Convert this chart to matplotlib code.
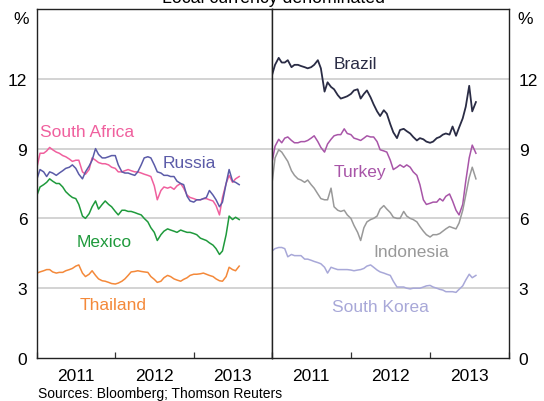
import numpy as np
import pandas as pd
import matplotlib
matplotlib.use("Agg")
from matplotlib import pyplot as plt
import matplotlib.dates as mdates

plt.rcParams['font.family'] = ['Liberation Sans', 'DejaVu Sans']

# semi-monthly observations, Jan 2011 - Aug 2013
dates = pd.date_range('2011-01-01', periods=63, freq='SMS')

south_africa = [8.2, 8.8, 8.8, 8.9, 9.05, 8.95, 8.85, 8.8, 8.7, 8.65, 8.55, 8.45, 8.5, 8.5, 8.0, 7.9,
                8.1, 8.6, 8.5, 8.4, 8.35, 8.35, 8.3, 8.2, 8.15, 8.0, 8.0, 8.05, 8.1, 8.05, 8.0, 8.0,
                7.95, 7.9, 7.85, 7.8, 7.4, 6.8, 7.2, 7.35, 7.3, 7.35, 7.25, 7.4, 7.5, 7.3, 7.0, 6.9,
                6.85, 6.8, 6.8, 6.85, 6.85, 6.8, 6.75, 6.55, 6.15, 6.9, 7.5, 7.85, 7.55, 7.7, 7.8]
russia = [7.7, 8.1, 8.0, 7.8, 8.0, 7.95, 7.85, 7.95, 8.05, 8.15, 8.2, 8.3, 8.15, 7.9, 7.7, 8.0,
          8.25, 8.5, 9.0, 8.75, 8.6, 8.6, 8.65, 8.7, 8.7, 8.3, 8.0, 7.95, 7.95, 7.9, 7.85, 8.0,
          8.3, 8.6, 8.65, 8.6, 8.3, 8.0, 7.95, 7.85, 7.85, 7.8, 7.8, 7.6, 7.5, 7.45, 6.95, 6.75,
          6.7, 6.8, 6.8, 6.85, 6.9, 7.2, 7.0, 6.8, 6.5, 6.7, 7.5, 8.1, 7.6, 7.55, 7.45]
mexico = [7.0, 7.35, 7.45, 7.55, 7.7, 7.6, 7.5, 7.5, 7.35, 7.15, 7.0, 6.9, 6.85, 6.6, 6.1, 6.0,
          6.2, 6.5, 6.75, 6.4, 6.6, 6.75, 6.6, 6.5, 6.3, 6.15, 6.35, 6.35, 6.3, 6.3, 6.25, 6.2,
          6.15, 6.0, 5.85, 5.6, 5.4, 5.05, 5.3, 5.45, 5.55, 5.5, 5.45, 5.4, 5.5, 5.45, 5.4, 5.4,
          5.35, 5.3, 5.15, 5.1, 5.05, 4.95, 4.85, 4.7, 4.45, 4.6, 5.3, 6.1, 5.95, 6.05, 5.95]
thailand = [3.65, 3.7, 3.75, 3.8, 3.8, 3.7, 3.65, 3.68, 3.68, 3.75, 3.8, 3.85, 3.95, 4.0, 3.65, 3.5,
            3.6, 3.75, 3.55, 3.4, 3.32, 3.3, 3.25, 3.2, 3.18, 3.22, 3.3, 3.4, 3.55, 3.7, 3.72, 3.75,
            3.72, 3.7, 3.68, 3.5, 3.38, 3.25, 3.3, 3.45, 3.55, 3.5, 3.4, 3.35, 3.3, 3.38, 3.45, 3.55,
            3.6, 3.6, 3.62, 3.65, 3.6, 3.55, 3.5, 3.4, 3.32, 3.3, 3.5, 3.9, 3.8, 3.75, 3.95]

brazil = [12.15, 12.6, 12.9, 12.7, 12.7, 12.8, 12.5, 12.6, 12.6, 12.55, 12.5, 12.45, 12.5, 12.6, 12.8, 12.45,
          11.45, 11.85, 11.65, 11.55, 11.3, 11.15, 11.2, 11.25, 11.35, 11.5, 11.55, 11.15, 11.35, 11.5, 11.2, 10.9,
          10.6, 10.4, 10.65, 10.5, 10.05, 9.7, 9.45, 9.8, 9.85, 9.75, 9.65, 9.5, 9.35, 9.45, 9.4, 9.3,
          9.25, 9.3, 9.45, 9.5, 9.6, 9.65, 9.6, 9.95, 9.55, 9.9, 10.3, 10.8, 11.7, 10.6, 11.0]
turkey = [8.4, 9.1, 9.4, 9.25, 9.45, 9.5, 9.35, 9.25, 9.25, 9.3, 9.3, 9.35, 9.45, 9.55, 9.3, 9.05,
          8.85, 9.2, 9.4, 9.55, 9.6, 9.6, 9.85, 9.65, 9.6, 9.45, 9.4, 9.35, 9.45, 9.55, 9.5, 9.5,
          9.3, 8.95, 8.9, 8.85, 8.5, 8.1, 8.2, 8.3, 8.2, 8.3, 8.2, 8.0, 7.85, 7.45, 6.8, 6.6,
          6.65, 6.7, 6.7, 6.85, 6.75, 6.95, 7.05, 6.75, 6.35, 6.15, 6.6, 7.6, 8.6, 9.15, 8.8]
indonesia = [7.5, 8.6, 8.95, 8.85, 8.65, 8.45, 8.05, 7.85, 7.7, 7.65, 7.55, 7.65, 7.45, 7.3, 7.05, 6.85,
             6.8, 6.8, 7.3, 6.5, 6.35, 6.3, 6.35, 6.15, 6.0, 5.7, 5.4, 5.05, 5.6, 5.85, 5.95, 6.0,
             6.1, 6.4, 6.55, 6.4, 6.25, 6.05, 6.0, 6.0, 6.3, 6.1, 6.0, 5.95, 5.85, 5.65, 5.45, 5.3,
             5.2, 5.3, 5.3, 5.35, 5.45, 5.55, 5.65, 5.6, 5.55, 5.8, 6.35, 7.0, 7.75, 8.2, 7.7]
south_korea = [4.6, 4.7, 4.75, 4.75, 4.7, 4.35, 4.45, 4.4, 4.4, 4.4, 4.25, 4.25, 4.2, 4.15, 4.1, 4.05,
               3.9, 3.65, 3.9, 3.85, 3.8, 3.8, 3.8, 3.8, 3.78, 3.75, 3.78, 3.8, 3.85, 3.95, 4.0, 3.9,
               3.78, 3.7, 3.65, 3.6, 3.55, 3.3, 3.05, 3.05, 3.05, 3.0, 2.97, 3.0, 3.0, 3.0, 3.05, 3.1,
               3.12, 3.05, 3.0, 2.95, 2.92, 2.85, 2.85, 2.85, 2.82, 2.95, 3.1, 3.35, 3.6, 3.45, 3.55]

yticks = [0, 3, 6, 9, 12]

# (label, values, colour, label x, label baseline y, line width)
left_series = [
    ('South Africa', south_africa, '#f0609e', '2011-01-15', 9.56, 1.1),
    ('Russia', russia, '#5b5ba8', '2012-08-10', 8.19, 1.1),
    ('Mexico', mexico, '#1f9a3c', '2011-07-05', 4.8, 1.1),
    ('Thailand', thailand, '#f4893a', '2011-07-20', 2.1, 1.1),
]
right_series = [
    ('Brazil', brazil, '#2a2c45', '2011-10-14', 12.47, 1.3),
    ('Turkey', turkey, '#a855a8', '2011-10-14', 7.84, 1.1),
    ('Indonesia', indonesia, '#999999', '2012-04-15', 4.37, 1.1),
    ('South Korea', south_korea, '#a8a8d8', '2011-10-05', 2.01, 1.1),
]

fig = plt.figure(figsize=(5.44, 4.02), dpi=100)
bottom = 43 / 402
height = 349 / 402
ax1 = fig.add_axes([37 / 544, bottom, 235 / 544, height])
ax2 = fig.add_axes([272 / 544, bottom, 237 / 544, height])

for ax, series in ((ax1, left_series), (ax2, right_series)):
    for y in [3, 6, 9, 12]:
        ax.axhline(y, color='#c8c8c8', lw=1.1, zorder=0)
    for name, vals, col, lx, ly, lw in series:
        ax.plot(dates, vals, color=col, lw=lw)
        ax.text(pd.Timestamp(lx), ly, name, color=col, fontsize=12.5, va='baseline', ha='left')
    ax.set_ylim(0, 15)
    ax.set_xlim(pd.Timestamp('2011-01-01'), pd.Timestamp('2014-01-01'))
    ax.xaxis.set_major_locator(mdates.YearLocator())
    ax.xaxis.set_major_formatter(plt.NullFormatter())
    ax.xaxis.set_minor_locator(mdates.MonthLocator(bymonth=7))
    ax.xaxis.set_minor_formatter(mdates.DateFormatter('%Y'))
    ax.tick_params(axis='x', which='major', direction='in', length=4.5, width=0.9, color='#333333')
    ax.tick_params(axis='x', which='minor', length=0, pad=7, labelsize=12.5)
    ax.set_yticks(yticks)
    for sp in ax.spines.values():
        sp.set_linewidth(1.0)
        sp.set_color('#222222')

ax1.tick_params(axis='y', length=0, pad=7, labelsize=12.5)
ax2.tick_params(axis='y', length=0, pad=7, labelsize=12.5, left=False, labelleft=False,
                right=True, labelright=True)

fig.text(21 / 544, 1 - 19 / 402, '%', fontsize=12.5, ha='center', va='center')
fig.text(525 / 544, 1 - 19 / 402, '%', fontsize=12.5, ha='center', va='center')
fig.text(274 / 544, 1 - 3 / 402, 'Local currency denominated', fontsize=12.8, ha='center', va='baseline')
fig.text(38 / 544, 4 / 402, 'Sources: Bloomberg; Thomson Reuters', fontsize=10, ha='left', va='baseline')

plt.savefig('out.png', dpi=100)
